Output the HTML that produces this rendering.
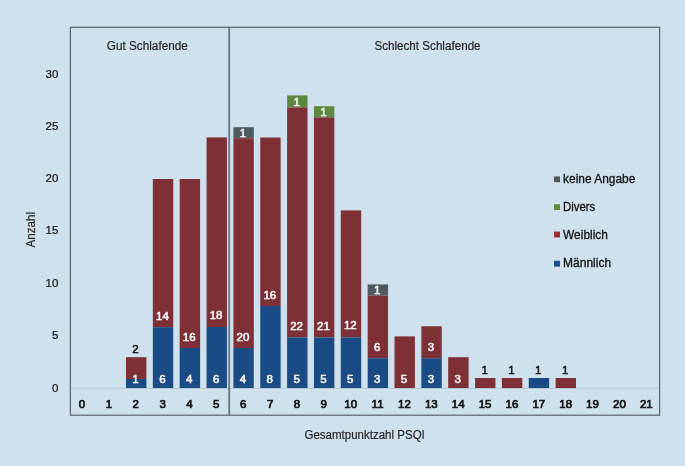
<!DOCTYPE html>
<html lang="de">
<head>
<meta charset="utf-8">
<title>Gesamtpunktzahl PSQI</title>
<style>
html,body{margin:0;padding:0;background:#d0e1ee;}
body{width:685px;height:466px;overflow:hidden;}
svg{display:block;}
text{font-family:"Liberation Sans",sans-serif;}
.v{font-size:11.5px;text-anchor:middle;stroke-width:0.5px;}
.x{font-size:11.5px;text-anchor:middle;fill:#111;stroke:#111;stroke-width:0.7px;}
.y{font-size:11.5px;text-anchor:end;fill:#111;stroke:#111;stroke-width:0.2px;}
.t{font-size:12.5px;fill:#262626;stroke:#262626;stroke-width:0.2px;}
.l{font-size:12.5px;fill:#111;stroke:#111;stroke-width:0.3px;}
</style>
</head>
<body>
<svg width="685" height="466" viewBox="0 0 685 466">
<rect x="0" y="0" width="685" height="466" fill="#d0e1ee"/>
<line x1="70.5" y1="388.3" x2="659.5" y2="388.3" stroke="#b3c5d1" stroke-width="1"/>
<rect x="126.00" y="357.2" width="20.4" height="21.8" fill="#7d3036"/>
<rect x="126.00" y="379.0" width="20.4" height="9.0" fill="#1a4b84"/>
<rect x="152.85" y="179.0" width="20.4" height="148.2" fill="#7d3036"/>
<rect x="152.85" y="327.2" width="20.4" height="60.8" fill="#1a4b84"/>
<rect x="179.70" y="179.0" width="20.4" height="169.0" fill="#7d3036"/>
<rect x="179.70" y="348.0" width="20.4" height="40.0" fill="#1a4b84"/>
<rect x="206.55" y="137.4" width="20.4" height="189.6" fill="#7d3036"/>
<rect x="206.55" y="327.0" width="20.4" height="61.0" fill="#1a4b84"/>
<rect x="233.40" y="127.2" width="20.4" height="11.0" fill="#4e5a5e"/>
<rect x="233.40" y="138.2" width="20.4" height="209.8" fill="#7d3036"/>
<rect x="233.40" y="348.0" width="20.4" height="40.0" fill="#1a4b84"/>
<rect x="260.25" y="137.5" width="20.4" height="168.5" fill="#7d3036"/>
<rect x="260.25" y="306.0" width="20.4" height="82.0" fill="#1a4b84"/>
<rect x="287.10" y="95.4" width="20.4" height="12.0" fill="#5c8a40"/>
<rect x="287.10" y="107.4" width="20.4" height="230.0" fill="#7d3036"/>
<rect x="287.10" y="337.4" width="20.4" height="50.6" fill="#1a4b84"/>
<rect x="313.95" y="106.2" width="20.4" height="11.2" fill="#5c8a40"/>
<rect x="313.95" y="117.4" width="20.4" height="220.0" fill="#7d3036"/>
<rect x="313.95" y="337.4" width="20.4" height="50.6" fill="#1a4b84"/>
<rect x="340.80" y="210.4" width="20.4" height="127.0" fill="#7d3036"/>
<rect x="340.80" y="337.4" width="20.4" height="50.6" fill="#1a4b84"/>
<rect x="367.65" y="284.4" width="20.4" height="11.2" fill="#4e5a5e"/>
<rect x="367.65" y="295.6" width="20.4" height="62.6" fill="#7d3036"/>
<rect x="367.65" y="358.2" width="20.4" height="29.8" fill="#1a4b84"/>
<rect x="394.50" y="336.4" width="20.4" height="51.6" fill="#7d3036"/>
<rect x="421.35" y="326.3" width="20.4" height="31.9" fill="#7d3036"/>
<rect x="421.35" y="358.2" width="20.4" height="29.8" fill="#1a4b84"/>
<rect x="448.20" y="357.2" width="20.4" height="30.8" fill="#7d3036"/>
<rect x="475.05" y="378.0" width="20.4" height="10.0" fill="#7d3036"/>
<rect x="501.90" y="378.0" width="20.4" height="10.0" fill="#7d3036"/>
<rect x="528.75" y="378.0" width="20.4" height="10.0" fill="#1a4b84"/>
<rect x="555.60" y="378.0" width="20.4" height="10.0" fill="#7d3036"/>
<rect x="70.4" y="27.3" width="589.2" height="387.9" fill="none" stroke="#5a6268" stroke-width="1.2"/>
<line x1="229.2" y1="27.3" x2="229.2" y2="415.2" stroke="#6a7681" stroke-width="1.8"/>
<text class="v" x="135.5" y="353.2" fill="#111111" stroke="#111111">2</text>
<text class="v" x="135.5" y="382.8" fill="#ffffff" stroke="#ffffff">1</text>
<text class="v" x="162.4" y="320.0" fill="#ffffff" stroke="#ffffff">14</text>
<text class="v" x="162.4" y="382.8" fill="#ffffff" stroke="#ffffff">6</text>
<text class="v" x="189.2" y="341.2" fill="#ffffff" stroke="#ffffff">16</text>
<text class="v" x="189.2" y="382.8" fill="#ffffff" stroke="#ffffff">4</text>
<text class="v" x="216.1" y="319.2" fill="#ffffff" stroke="#ffffff">18</text>
<text class="v" x="216.1" y="382.8" fill="#ffffff" stroke="#ffffff">6</text>
<text class="v" x="242.9" y="136.8" fill="#ffffff" stroke="#ffffff">1</text>
<text class="v" x="242.9" y="341.2" fill="#ffffff" stroke="#ffffff">20</text>
<text class="v" x="242.9" y="382.8" fill="#ffffff" stroke="#ffffff">4</text>
<text class="v" x="269.8" y="299.0" fill="#ffffff" stroke="#ffffff">16</text>
<text class="v" x="269.8" y="382.8" fill="#ffffff" stroke="#ffffff">8</text>
<text class="v" x="296.6" y="105.6" fill="#ffffff" stroke="#ffffff">1</text>
<text class="v" x="296.6" y="329.6" fill="#ffffff" stroke="#ffffff">22</text>
<text class="v" x="296.6" y="382.8" fill="#ffffff" stroke="#ffffff">5</text>
<text class="v" x="323.4" y="116.2" fill="#ffffff" stroke="#ffffff">1</text>
<text class="v" x="323.4" y="329.6" fill="#ffffff" stroke="#ffffff">21</text>
<text class="v" x="323.4" y="382.8" fill="#ffffff" stroke="#ffffff">5</text>
<text class="v" x="350.3" y="329.4" fill="#ffffff" stroke="#ffffff">12</text>
<text class="v" x="350.3" y="382.8" fill="#ffffff" stroke="#ffffff">5</text>
<text class="v" x="377.2" y="294.0" fill="#ffffff" stroke="#ffffff">1</text>
<text class="v" x="377.2" y="351.0" fill="#ffffff" stroke="#ffffff">6</text>
<text class="v" x="377.2" y="382.8" fill="#ffffff" stroke="#ffffff">3</text>
<text class="v" x="404.0" y="382.8" fill="#ffffff" stroke="#ffffff">5</text>
<text class="v" x="430.9" y="351.0" fill="#ffffff" stroke="#ffffff">3</text>
<text class="v" x="430.9" y="382.8" fill="#ffffff" stroke="#ffffff">3</text>
<text class="v" x="457.7" y="382.8" fill="#ffffff" stroke="#ffffff">3</text>
<text class="v" x="484.6" y="373.5" fill="#111111" stroke="#111111">1</text>
<text class="v" x="511.4" y="373.5" fill="#111111" stroke="#111111">1</text>
<text class="v" x="538.2" y="373.5" fill="#111111" stroke="#111111">1</text>
<text class="v" x="565.1" y="373.5" fill="#111111" stroke="#111111">1</text>
<text class="x" x="82.0" y="408">0</text>
<text class="x" x="108.9" y="408">1</text>
<text class="x" x="135.7" y="408">2</text>
<text class="x" x="162.6" y="408">3</text>
<text class="x" x="189.5" y="408">4</text>
<text class="x" x="216.3" y="408">5</text>
<text class="x" x="243.2" y="408">6</text>
<text class="x" x="270.1" y="408">7</text>
<text class="x" x="297.0" y="408">8</text>
<text class="x" x="323.8" y="408">9</text>
<text class="x" x="350.7" y="408">10</text>
<text class="x" x="377.6" y="408">11</text>
<text class="x" x="404.4" y="408">12</text>
<text class="x" x="431.3" y="408">13</text>
<text class="x" x="458.2" y="408">14</text>
<text class="x" x="485.1" y="408">15</text>
<text class="x" x="511.9" y="408">16</text>
<text class="x" x="538.8" y="408">17</text>
<text class="x" x="565.7" y="408">18</text>
<text class="x" x="592.5" y="408">19</text>
<text class="x" x="619.4" y="408">20</text>
<text class="x" x="646.3" y="408">21</text>
<text class="y" x="58.3" y="78">30</text>
<text class="y" x="58.3" y="130">25</text>
<text class="y" x="58.3" y="182">20</text>
<text class="y" x="58.3" y="234">15</text>
<text class="y" x="58.3" y="287">10</text>
<text class="y" x="58.3" y="339">5</text>
<text class="y" x="58.3" y="392">0</text>
<text class="t" x="106.8" y="50.4" textLength="81" lengthAdjust="spacingAndGlyphs">Gut Schlafende</text>
<text class="t" x="374.4" y="50.4" textLength="106.2" lengthAdjust="spacingAndGlyphs">Schlecht Schlafende</text>
<text class="t" x="304.5" y="438.9" textLength="120.3" lengthAdjust="spacingAndGlyphs">Gesamtpunktzahl PSQI</text>
<text class="t" transform="translate(35.2 247.4) rotate(-90)" textLength="35.4" lengthAdjust="spacingAndGlyphs">Anzahl</text>
<rect x="554" y="176.4" width="6" height="5.8" fill="#4e5a5e"/>
<text class="l" x="563.1" y="183.0" textLength="72.2" lengthAdjust="spacingAndGlyphs">keine Angabe</text>
<rect x="554" y="204.2" width="6" height="5.8" fill="#5f8f3e"/>
<text class="l" x="563.1" y="211.0" textLength="32.2" lengthAdjust="spacingAndGlyphs">Divers</text>
<rect x="554" y="231.6" width="6" height="5.8" fill="#9a2c3a"/>
<text class="l" x="563.1" y="238.8" textLength="44.8" lengthAdjust="spacingAndGlyphs">Weiblich</text>
<rect x="554" y="260.8" width="6" height="5.8" fill="#1f4f8c"/>
<text class="l" x="563.1" y="267.0" textLength="48.0" lengthAdjust="spacingAndGlyphs">Männlich</text>
</svg>
</body>
</html>
